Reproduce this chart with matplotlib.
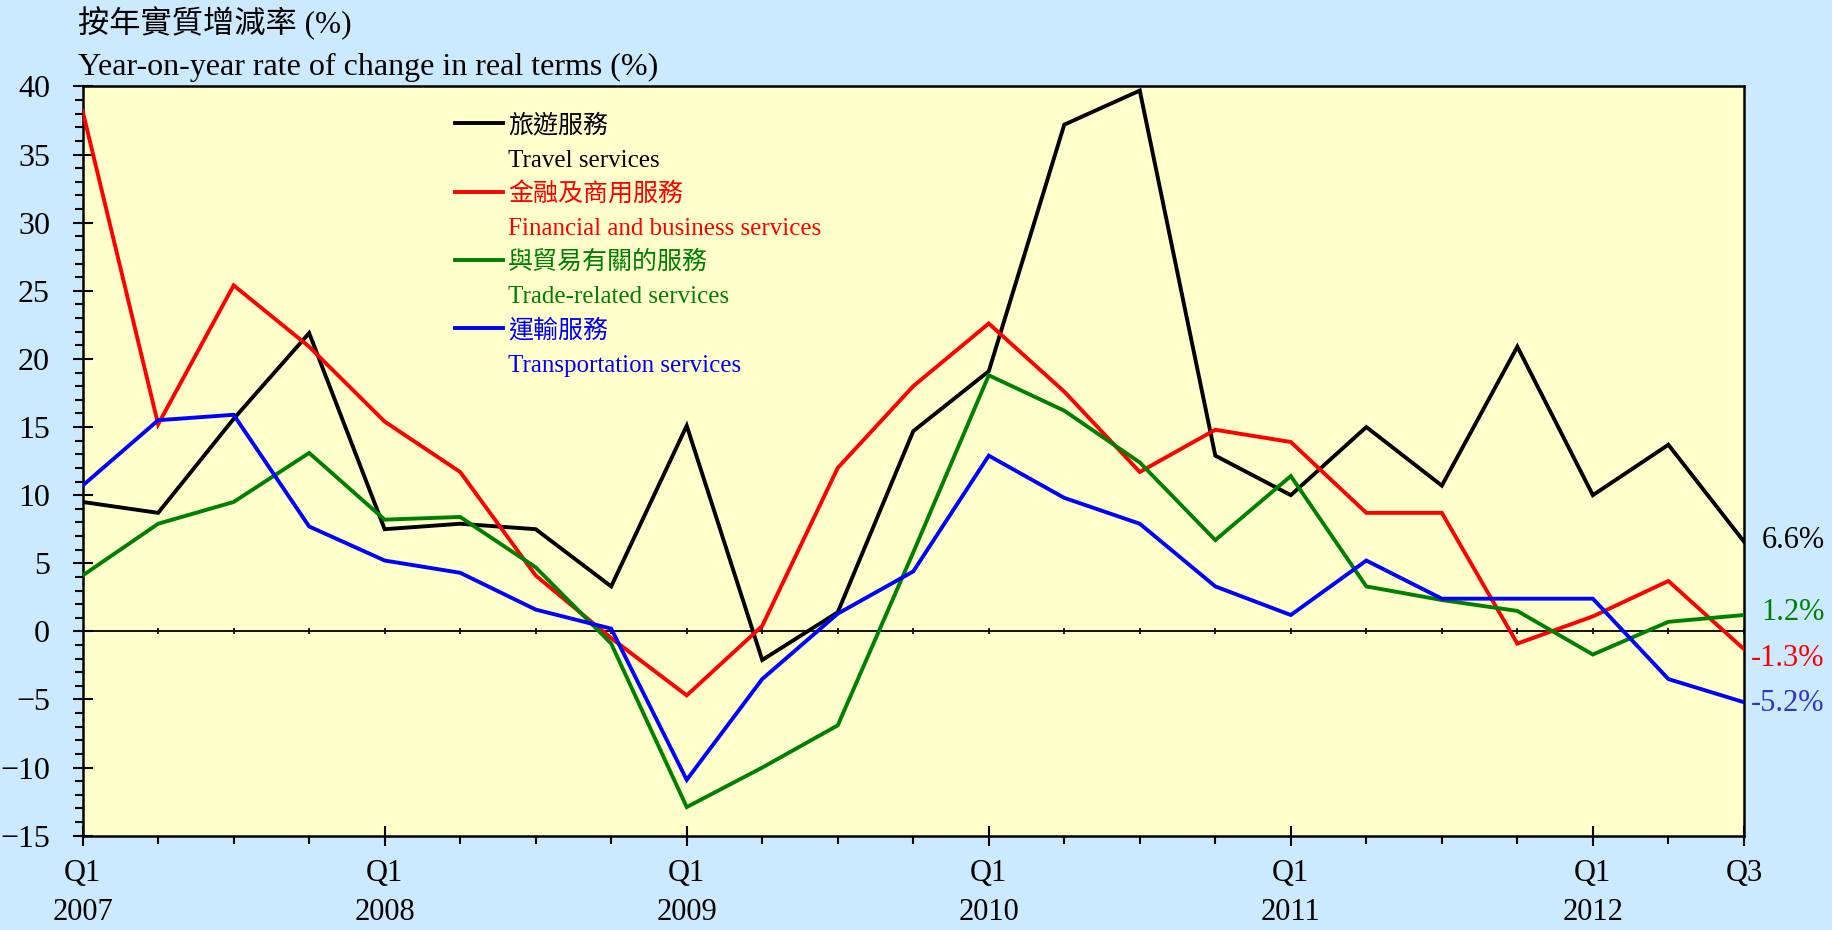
import numpy as np
import matplotlib
matplotlib.use("Agg")
import matplotlib.pyplot as plt
from matplotlib.ticker import FixedLocator

plt.rcParams['font.family'] = ['Liberation Serif', 'Noto Sans CJK TC']

#Quarters from 2007 Q1 to 2012 Q3
quarters = ['Q1\n2007', '', '', '',
            'Q1\n2008', '', '', '',
            'Q1\n2009', '', '', '',
            'Q1\n2010', '', '', '',
            'Q1\n2011', '', '', '',
            'Q1\n2012', '', 'Q3']

travel = [9.5, 8.7, 15.6, 21.9, 7.5, 7.9, 7.5, 3.3, 15.1, -2.1, 1.4, 14.7,
          19.1, 37.2, 39.7, 12.9, 10.0, 15.0, 10.7, 20.9, 10.0, 13.7, 6.6]
financial = [38.2, 15.2, 25.4, 20.9, 15.4, 11.7, 4.1, -0.5, -4.7, 0.4, 12.0, 18.0,
             22.6, 17.6, 11.7, 14.8, 13.9, 8.7, 8.7, -0.9, 1.1, 3.7, -1.3]
trade = [4.1, 7.9, 9.5, 13.1, 8.2, 8.4, 4.7, -0.9, -12.9, -10.0, -6.9, 5.8,
         18.8, 16.2, 12.4, 6.7, 11.4, 3.3, 2.3, 1.5, -1.7, 0.7, 1.2]
transport = [10.7, 15.5, 15.9, 7.7, 5.2, 4.3, 1.6, 0.2, -10.9, -3.5, 1.3, 4.4,
             12.9, 9.8, 7.9, 3.3, 1.2, 5.2, 2.4, 2.4, 2.4, -3.5, -5.2]

names_cn = ['旅遊服務', '金融及商用服務', '與貿易有關的服務', '運輸服務']
names_en = ['Travel services', 'Financial and business services',
            'Trade-related services', 'Transportation services']
end_labels = ['6.6%', '-1.3%', '1.2%', '-5.2%']

colors = ['black', '#ff0000', '#008000', '#0000ff']
label_colors = ['black', '#ff0000', '#008000', '#3333cc']
#vertical nudges (points) so end labels don't collide
label_dy = [1, -7, 2, -1]

x = np.arange(len(quarters))
series = [travel, financial, trade, transport]

fig = plt.figure(figsize=(18.32, 9.30), dpi=100, facecolor='#cceaff')
ax = fig.add_axes([0.0451, 0.1014, 0.9068, 0.8056])
ax.set_facecolor('#ffffcc')

ax.axhline(0, color='black', lw=1.3, zorder=1)
#little tick marks sitting on the zero line
ax.plot(x, np.zeros(len(x)), ls='none', marker='|', ms=5, mew=1.2, color='black', zorder=1)
for s, c in zip(series, colors):
    ax.plot(x, s, color=c, lw=2.8, zorder=3, solid_joinstyle='miter')

ax.set_xlim(0, len(quarters) - 1)
ax.set_ylim(-15, 40)

#x ticks: labelled quarters are major, the rest minor
major = [i for i, q in enumerate(quarters) if q]
minor = [i for i, q in enumerate(quarters) if not q]
ax.xaxis.set_major_locator(FixedLocator(major))
ax.xaxis.set_minor_locator(FixedLocator(minor))
ax.set_xticklabels([quarters[i] for i in major], linespacing=1.45)
ax.yaxis.set_major_locator(FixedLocator(np.arange(-15, 41, 5)))
ax.yaxis.set_minor_locator(FixedLocator(np.arange(-15, 41, 1)))

ax.tick_params(axis='x', which='major', direction='inout', length=15, width=1.5,
               pad=9, labelsize=22)
ax.tick_params(axis='x', which='minor', direction='out', length=5.5, width=1.5)
ax.tick_params(axis='y', which='major', direction='inout', length=15, width=1.5,
               pad=16, labelsize=23)
ax.tick_params(axis='y', which='minor', direction='out', length=6, width=1.5)
for sp in ax.spines.values():
    sp.set_linewidth(1.8)

#end-of-series labels
for s, lab, c, dy in zip(series, end_labels, label_colors, label_dy):
    ax.annotate(lab, xy=(x[-1], s[-1]), xytext=(58, dy), textcoords='offset points',
                ha='right', va='center', color=c, fontsize=22, annotation_clip=False)

#legend drawn by hand: line + chinese name, english name underneath
for i in range(len(series)):
    y0 = 0.951 - i * 0.0912
    ax.plot([0.224, 0.253], [y0, y0], transform=ax.transAxes, color=colors[i], lw=2.8)
    ax.text(0.256, y0 - 0.003, names_cn[i], transform=ax.transAxes, color=colors[i],
            fontsize=18, va='center', family=['Noto Sans CJK TC'])
    ax.text(0.256, y0 - 0.05, names_en[i], transform=ax.transAxes, color=colors[i],
            fontsize=18, va='center')

fig.text(0.0426, 0.975, '按年實質增減率 (%)', fontsize=22.5, va='center')
fig.text(0.0426, 0.928, 'Year-on-year rate of change in real terms (%)', fontsize=23, va='center')

fig.savefig('out.png', dpi=100, facecolor=fig.get_facecolor())
